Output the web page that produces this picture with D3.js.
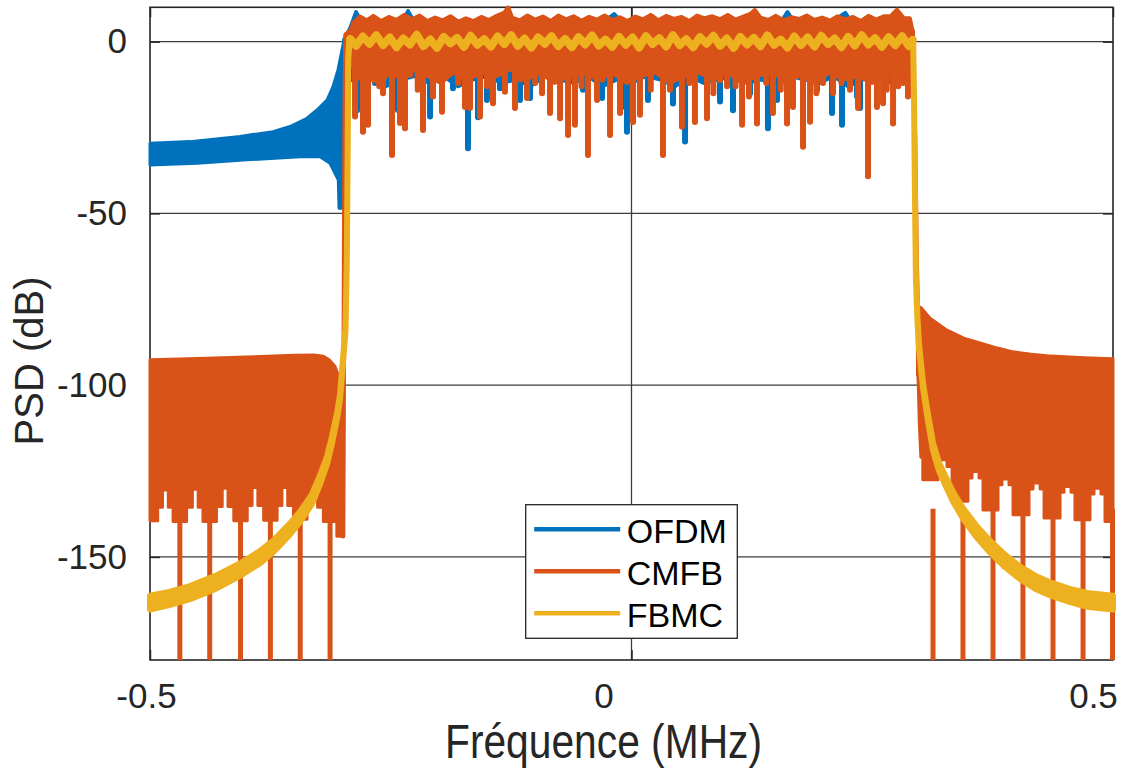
<!DOCTYPE html>
<html>
<head>
<meta charset="utf-8">
<script src="https://cdn.jsdelivr.net/npm/d3@7"></script>
<style>
  html, body { margin: 0; padding: 0; background: #fff; }
  svg { display: block; font-family: "Liberation Sans", Arial, Helvetica, sans-serif; }
</style>
</head>
<body>
<svg id="chart"></svg>
<script>
const WIDTH = 1123;
const HEIGHT = 774;
const LEFT = 150, RIGHT = 1113, TOP = 7.3, BOTTOM = 660;

const COLORS = { OFDM: "#0072BD", CMFB: "#D95319", FBMC: "#EDB120" };
const seriesNames = ["OFDM", "CMFB", "FBMC"];

const xTicks = [-0.5, 0, 0.5];
const xTickLabels = ["-0.5", "0", "0.5"];
const yTicks = [0, -50, -100, -150];

// ---- OFDM (blue) ----
// left side lobe, read as upper / lower envelope [f, dB]
const ofdmLobeUpper = [[-0.5,-29.6],[-0.4585,-29.1],[-0.4066,-27.6],[-0.3723,-26.2],[-0.3546,-24.7],[-0.337,-22.3],[-0.3266,-19.9],[-0.3162,-17],[-0.31,-13.1],[-0.3048,-8.2],[-0.3006,-2.4],[-0.2985,0.5]];
const ofdmLobeLower = [[-0.5,-35.9],[-0.4512,-35.4],[-0.3993,-34.4],[-0.3442,-33.5],[-0.3235,-33.5],[-0.3131,-35.4],[-0.3079,-38.3],[-0.3045,-40.2],[-0.3037,-48.5],[-0.2993,-48.5],[-0.2985,-38],[-0.2975,-10]];
// passband
const ofdmBandTop = [[-0.2985,0.5],[-0.292,4],[-0.286,8.6],[-0.280,5.5],[-0.268,6.2],[-0.258,5.5],[-0.248,6.0],[-0.238,5.6],[-0.232,8.9],[-0.226,5.8],[-0.210,6.0],[-0.198,5.6],[-0.186,6.1],[-0.174,5.7],[-0.162,6.0],[-0.150,5.5],[-0.138,6.2],[-0.126,5.8],[-0.114,6.0],[-0.102,5.6],[-0.090,6.1],[-0.078,5.7],[-0.066,6.0],[-0.054,5.6],[-0.042,6.2],[-0.030,5.6],[-0.018,8.0],[-0.010,5.7],[0.006,6.0],[0.018,5.8],[0.030,6.1],[0.042,5.6],[0.054,6.0],[0.066,5.7],[0.078,6.1],[0.090,5.8],[0.102,6.0],[0.114,5.6],[0.126,6.1],[0.138,5.8],[0.156,6.0],[0.162,8.6],[0.168,5.9],[0.186,6.0],[0.198,5.6],[0.210,6.1],[0.222,8.4],[0.228,5.8],[0.246,6.0],[0.258,5.6],[0.270,6.1],[0.282,5.7],[0.292,3]];
const ofdmBandBottom = [[-0.2985,-10],[-0.285,-12],[-0.27,-10],[-0.255,-13],[-0.24,-11],[-0.225,-10],[-0.21,-12],[-0.195,-10],[-0.18,-13],[-0.165,-11],[-0.15,-10],[-0.135,-12],[-0.12,-11],[-0.105,-13],[-0.09,-10],[-0.075,-11],[-0.06,-12],[-0.045,-10],[-0.03,-13],[-0.015,-11],[0,-12],[0.015,-10],[0.03,-11],[0.045,-13],[0.06,-10],[0.075,-12],[0.09,-11],[0.105,-10],[0.12,-12],[0.135,-11],[0.15,-13],[0.165,-10],[0.18,-11],[0.195,-12],[0.21,-10],[0.225,-13],[0.24,-11],[0.255,-10],[0.27,-12],[0.285,-11],[0.292,-5]];
const ofdmDips = [[-0.2850,-20],[-0.2788,-26],[-0.2664,-12],[-0.2425,-19.9],[-0.2352,-25],[-0.2196,-12],[-0.2092,-21.8],[-0.1854,-13.6],[-0.1698,-31],[-0.1594,-22],[-0.1501,-17],[-0.1366,-13.6],[-0.1158,-17],[-0.1054,-16.4],[-0.0504,-14],[-0.0306,-16.4],[-0.0099,-19],[-0.0047,-26.2],[0.0171,-17],[0.0431,-18],[0.0556,-29.1],[0.0919,-17.4],[0.1054,-20],[0.1231,-15],[0.1417,-25.2],[0.1511,-17],[0.1926,-14],[0.2082,-20.8],[0.2186,-24.2],[0.2342,-16],[0.2373,-19.3]];

// ---- CMFB (orange) ----
const cmfbLeftUpper = [[-0.5,-92.6],[-0.45,-92.2],[-0.40,-91.8],[-0.35,-91.3],[-0.33,-91.2],[-0.32,-91.6],[-0.314,-92.6],[-0.308,-94.5],[-0.304,-97.5],[-0.3015,-101],[-0.2995,-104]];
const cmfbLeftLower = [[-0.500,-139.5],[-0.492,-139.5],[-0.492,-135.5],[-0.487,-135.5],[-0.487,-130.5],[-0.481,-130.5],[-0.481,-135.5],[-0.476,-135.5],[-0.476,-139.7],[-0.462,-139.7],[-0.462,-135.5],[-0.456,-135.5],[-0.456,-130.3],[-0.450,-130.3],[-0.450,-135.5],[-0.445,-135.5],[-0.445,-139.7],[-0.431,-139.7],[-0.431,-135.3],[-0.425,-135.3],[-0.425,-130],[-0.419,-130],[-0.419,-135.3],[-0.413,-135.3],[-0.413,-139.5],[-0.399,-139.5],[-0.399,-135],[-0.394,-135],[-0.394,-129.8],[-0.388,-129.8],[-0.388,-135],[-0.382,-135],[-0.382,-139.3],[-0.368,-139.3],[-0.368,-135],[-0.363,-135],[-0.363,-129.8],[-0.357,-129.8],[-0.357,-135],[-0.351,-135],[-0.351,-139],[-0.337,-139],[-0.337,-135],[-0.332,-135],[-0.332,-130],[-0.326,-130],[-0.326,-135.5],[-0.320,-135.5],[-0.320,-139.7],[-0.306,-139.7],[-0.306,-144],[-0.2995,-144]];
const cmfbRightUpper = [[0.2975,-77],[0.301,-77.5],[0.31,-80.5],[0.3276,-84],[0.345,-86.3],[0.3619,-87.7],[0.38,-89.2],[0.3962,-90.3],[0.415,-91],[0.4315,-91.4],[0.47,-92],[0.5,-92.3]];
const cmfbRightLower = [[0.2975,-97],[0.2990,-112],[0.3005,-121],[0.3025,-121],[0.3025,-127.5],[0.3183,-127.5],[0.3183,-123.7],[0.3204,-123.7],[0.3204,-121.7],[0.3276,-121.7],[0.3276,-123.7],[0.3329,-123.7],[0.3329,-133.8],[0.3494,-133.8],[0.3494,-127],[0.3536,-127],[0.3536,-125.1],[0.3609,-125.1],[0.3609,-127],[0.3650,-127],[0.3650,-136.3],[0.3806,-136.3],[0.3806,-129],[0.3847,-129],[0.3847,-127.3],[0.3920,-127.3],[0.3920,-129],[0.3962,-129],[0.3962,-137.7],[0.4128,-137.7],[0.4128,-130.2],[0.4170,-130.2],[0.4170,-128.5],[0.4243,-128.5],[0.4243,-130.2],[0.4284,-130.2],[0.4284,-138.7],[0.4450,-138.7],[0.4450,-131.2],[0.4491,-131.2],[0.4491,-129.5],[0.4564,-129.5],[0.4564,-131.2],[0.4605,-131.2],[0.4605,-139.2],[0.4761,-139.2],[0.4761,-131.7],[0.4803,-131.7],[0.4803,-130],[0.4875,-130],[0.4875,-131.7],[0.4917,-131.7],[0.4917,-139.7],[0.5,-139.7]];
// nulls that fall below the axis
const cmfbNulls = [-0.469,-0.438,-0.406,-0.375,-0.344,-0.313,0.3131,0.3442,0.3754,0.4065,0.4377,0.4689,0.4995];
const cmfbEdgeLeft = [[-0.2995,-144],[-0.2990,-110],[-0.2984,-60],[-0.2978,-20],[-0.2970,2],[-0.293,3]];
const cmfbEdgeRight = [[0.292,3],[0.2945,-30],[0.2962,-65],[0.2975,-80],[0.2978,-97]];
const cmfbBandTop = [[-0.293,2],[-0.289,5.5],[-0.282,7.3],[-0.275,6.2],[-0.268,7.5],[-0.260,6.0],[-0.252,7.2],[-0.244,6.3],[-0.236,7.8],[-0.228,6.5],[-0.220,7.6],[-0.212,6.0],[-0.204,7.0],[-0.196,6.2],[-0.188,7.4],[-0.180,5.8],[-0.172,6.8],[-0.164,6.0],[-0.156,7.2],[-0.148,6.3],[-0.140,7.5],[-0.132,8.5],[-0.128,10.0],[-0.124,7.0],[-0.116,6.2],[-0.108,7.6],[-0.100,6.4],[-0.092,7.3],[-0.084,6.0],[-0.076,7.6],[-0.068,6.5],[-0.060,7.4],[-0.052,6.1],[-0.044,7.2],[-0.036,6.4],[-0.028,7.6],[-0.020,6.3],[-0.012,7.1],[-0.004,6.0],[0.004,7.3],[0.012,6.5],[0.020,7.8],[0.028,6.2],[0.036,7.5],[0.044,6.6],[0.052,7.2],[0.060,6.0],[0.068,7.6],[0.076,6.8],[0.084,7.4],[0.092,6.5],[0.100,7.8],[0.108,6.4],[0.116,7.3],[0.124,8.2],[0.128,9.2],[0.134,7.0],[0.142,6.3],[0.150,7.5],[0.158,6.2],[0.166,7.1],[0.174,6.6],[0.182,7.6],[0.190,6.3],[0.198,7.0],[0.206,6.1],[0.214,7.4],[0.222,6.5],[0.230,7.2],[0.238,6.0],[0.246,7.5],[0.254,6.4],[0.262,7.4],[0.2695,7.5],[0.2757,9.3],[0.283,6.8],[0.289,6.8],[0.292,3]];
const cmfbBandBottom = [[-0.293,-4],[-0.285,-11],[-0.275,-9],[-0.262,-12],[-0.250,-9],[-0.238,-11],[-0.225,-8],[-0.212,-10],[-0.198,-12],[-0.185,-9],[-0.170,-11],[-0.155,-9],[-0.140,-10],[-0.125,-8],[-0.110,-11],[-0.095,-9],[-0.080,-12],[-0.065,-10],[-0.050,-9],[-0.035,-11],[-0.020,-9],[-0.005,-12],[0.010,-10],[0.025,-9],[0.040,-12],[0.055,-10],[0.070,-9],[0.085,-11],[0.100,-9],[0.115,-12],[0.130,-10],[0.145,-9],[0.160,-11],[0.175,-10],[0.190,-12],[0.205,-9],[0.220,-11],[0.235,-10],[0.250,-12],[0.265,-9],[0.280,-11],[0.292,-4]];
const cmfbDips = [[-0.2871,-21.8],[-0.2788,-26.2],[-0.2736,-24.2],[-0.2674,-11.2],[-0.262,-13],[-0.2580,-15],[-0.2487,-33],[-0.2404,-23.7],[-0.2352,-25.2],[-0.2300,-9.7],[-0.222,-14],[-0.2165,-25.7],[-0.2061,-16],[-0.1968,-20.4],[-0.1906,-8.2],[-0.180,-12],[-0.1729,-19],[-0.1677,-19.3],[-0.1573,-21.8],[-0.150,-13],[-0.1438,-17.9],[-0.1314,-14.6],[-0.1210,-19.3],[-0.115,-11],[-0.1085,-16.4],[-0.100,-12],[-0.0929,-15],[-0.0846,-20.8],[-0.0742,-22.3],[-0.0659,-27.2],[-0.0587,-24.2],[-0.052,-13],[-0.0452,-33],[-0.0358,-17],[-0.030,-11],[-0.0223,-27.2],[-0.0119,-20.8],[0.0016,-23.4],[0.0088,-21.3],[0.020,-14],[0.0327,-33],[0.0400,-14],[0.0524,-24.8],[0.060,-12],[0.0659,-23.4],[0.0784,-22.3],[0.085,-15],[0.0919,-11.2],[0.0992,-13],[0.108,-13],[0.1148,-24.2],[0.122,-16],[0.1303,-23.8],[0.140,-12],[0.1469,-20.8],[0.155,-14],[0.1615,-23.8],[0.1677,-19],[0.1781,-30.6],[0.1854,-23.3],[0.192,-15],[0.1989,-12],[0.2093,-15],[0.218,-12],[0.2269,-14],[0.2352,-19.3],[0.2456,-39.2],[0.2549,-19],[0.2612,-17.9],[0.265,-14],[0.2716,-23.8],[0.277,-13],[0.2819,-12],[0.2871,-16]];

// ---- FBMC (yellow) ----
// skirts as [f, upper dB, lower dB]
const fbmcSkirtLeft = [[-0.500,-161.3,-165.3],[-0.480,-160.2,-164.0],[-0.4585,-158.5,-162.3],[-0.432,-155.5,-159.3],[-0.4066,-151.9,-155.5],[-0.386,-148.3,-151.9],[-0.3723,-145.3,-148.7],[-0.355,-140.4,-143.6],[-0.3442,-136.8,-139.8],[-0.332,-131.9,-134.7],[-0.3235,-126.3,-128.9],[-0.316,-120.6,-122.8],[-0.311,-114.9,-116.9],[-0.3055,-107.8,-109.4],[-0.3027,-102.7,-104.1],[-0.2995,-92,-93.2],[-0.2970,-83.4,-84.4],[-0.2956,-63.2,-63.8],[-0.2947,-31.2,-31.8],[-0.2942,-5.0,-5.6],[-0.2930,0.8,-0.8]];
const fbmcSkirtRight = [[0.2925,0.8,-0.8],[0.2934,-16.7,-17.3],[0.2944,-45.7,-46.3],[0.2954,-69,-69.6],[0.2970,-80.5,-81.5],[0.2986,-88.2,-89.4],[0.3027,-99.3,-100.7],[0.3070,-107.1,-108.9],[0.3131,-116.8,-119],[0.3190,-122.3,-124.7],[0.3255,-126.2,-128.8],[0.3340,-131.1,-133.9],[0.3440,-135.7,-138.7],[0.3580,-140.9,-144.1],[0.3723,-145.3,-148.7],[0.3880,-149.4,-153],[0.4034,-152.8,-156.4],[0.4200,-155.6,-159.4],[0.4377,-157.7,-161.5],[0.4550,-159.3,-163.1],[0.4730,-160.5,-164.5],[0.5000,-161.3,-165.3]];
const fbmcPass = [[-0.292,0.8],[-0.286,-1.2],[-0.279,1.5],[-0.272,-0.6],[-0.265,1.9],[-0.258,-1.0],[-0.251,1.2],[-0.244,-1.6],[-0.237,0.9],[-0.230,-0.8],[-0.223,2.0],[-0.216,-1.3],[-0.209,0.6],[-0.202,-1.8],[-0.195,1.4],[-0.188,-0.5],[-0.181,1.1],[-0.174,-1.5],[-0.167,1.7],[-0.160,-0.9],[-0.153,0.7],[-0.146,-1.4],[-0.139,1.5],[-0.132,-0.7],[-0.125,1.9],[-0.118,-1.2],[-0.111,0.9],[-0.104,-1.7],[-0.097,1.2],[-0.090,-0.6],[-0.083,1.6],[-0.076,-1.3],[-0.069,0.8],[-0.062,-1.6],[-0.055,1.3],[-0.048,-0.8],[-0.041,1.8],[-0.034,-1.1],[-0.027,0.6],[-0.020,-1.5],[-0.013,1.4],[-0.006,-0.9],[0.001,1.2],[0.008,-1.7],[0.015,1.6],[0.022,-0.7],[0.029,1.0],[0.036,-1.4],[0.043,1.9],[0.050,-1.0],[0.057,0.7],[0.064,-1.6],[0.071,1.3],[0.078,-0.6],[0.085,1.7],[0.092,-1.2],[0.099,0.9],[0.106,-1.8],[0.113,1.4],[0.120,-0.8],[0.127,1.1],[0.134,-1.3],[0.141,1.8],[0.148,-0.9],[0.155,0.6],[0.162,-1.7],[0.169,1.5],[0.176,-1.0],[0.183,1.2],[0.190,-1.4],[0.197,1.7],[0.204,-0.7],[0.211,0.9],[0.218,-1.6],[0.225,1.4],[0.232,-1.1],[0.239,1.9],[0.246,-0.8],[0.253,1.0],[0.260,-1.5],[0.267,1.3],[0.274,-1.0],[0.281,1.6],[0.288,-1.3],[0.292,0.5]];

const DIP_BASE = -6;

const svg = d3.select("#chart").attr("width", WIDTH).attr("height", HEIGHT);

const x = d3.scaleLinear().domain([-0.5, 0.5]).range([LEFT, RIGHT]);
const y = d3.scaleLinear().domain([-180, 10]).range([BOTTOM, TOP]);

const line = d3.line().x((d) => x(d[0])).y((d) => y(d[1]));
const band = d3.area().x((d) => x(d[0])).y0((d) => y(d[2])).y1((d) => y(d[1]));

// polygon from an upper edge and a lower edge
const shape = (upper, lower) => line(upper.concat(lower.slice().reverse())) + "Z";

svg.append("rect").attr("width", WIDTH).attr("height", HEIGHT).attr("fill", "#fff");

// grid
const grid = svg.append("g").attr("stroke", "#3c3c3c").attr("stroke-width", 1.3);
yTicks.forEach((t) => {
  grid.append("line").attr("x1", LEFT).attr("x2", RIGHT).attr("y1", y(t)).attr("y2", y(t));
});
xTicks.filter((t) => t > -0.5 && t < 0.5).forEach((t) => {
  grid.append("line").attr("y1", TOP).attr("y2", BOTTOM).attr("x1", x(t)).attr("x2", x(t));
});

// axes with inside ticks
const fontColor = "#262626";
const yAxis = svg.append("g")
  .attr("transform", `translate(${LEFT},0)`)
  .call(d3.axisLeft(y).tickValues(yTicks).tickSize(-10).tickPadding(23).tickFormat((d) => String(d)));
const yAxisR = svg.append("g")
  .attr("transform", `translate(${RIGHT},0)`)
  .call(d3.axisRight(y).tickValues(yTicks).tickSize(-10).tickFormat(""));
const xAxis = svg.append("g")
  .attr("transform", `translate(0,${BOTTOM})`)
  .call(d3.axisBottom(x).tickValues(xTicks).tickSize(-10).tickPadding(23).tickFormat((d, i) => xTickLabels[i]));
const xAxisT = svg.append("g")
  .attr("transform", `translate(0,${TOP})`)
  .call(d3.axisTop(x).tickValues(xTicks).tickSize(-10).tickFormat(""));

const xLabelShift = [-4, -28, -20];
[yAxis, yAxisR, xAxis, xAxisT].forEach((g) => {
  g.select(".domain").remove();
  g.selectAll(".tick line").attr("stroke", fontColor).attr("stroke-width", 1.5);
  g.selectAll(".tick text")
    .attr("fill", fontColor)
    .style("font-size", "35px")
    .style("font-family", '"Liberation Sans", Arial, Helvetica, sans-serif');
});
xAxis.selectAll(".tick text").attr("dx", (d, i) => xLabelShift[i]);

svg.append("rect")
  .attr("x", LEFT).attr("y", TOP)
  .attr("width", RIGHT - LEFT).attr("height", BOTTOM - TOP)
  .attr("fill", "none").attr("stroke", fontColor).attr("stroke-width", 1.6);

// axis titles
svg.append("text")
  .attr("x", 603.5).attr("y", 758)
  .attr("text-anchor", "middle")
  .attr("fill", fontColor)
  .attr("font-size", 48)
  .attr("textLength", 317)
  .attr("lengthAdjust", "spacingAndGlyphs")
  .text("Fréquence (MHz)");
svg.append("text")
  .attr("transform", "translate(43,361) rotate(-90)")
  .attr("text-anchor", "middle")
  .attr("fill", fontColor)
  .attr("font-size", 40)
  .text("PSD (dB)");

// data
svg.append("clipPath").attr("id", "plot-clip")
  .append("rect")
  .attr("x", LEFT - 4).attr("y", TOP - 2)
  .attr("width", RIGHT - LEFT + 8).attr("height", BOTTOM - TOP + 2);

const plot = svg.append("g").attr("clip-path", "url(#plot-clip)");

const drawDips = (dips, color) => {
  plot.append("g")
    .selectAll("path")
    .data(dips)
    .enter()
    .append("path")
    .attr("d", (d) => line([[d[0], DIP_BASE], d]))
    .attr("stroke", color)
    .attr("stroke-width", 6)
    .attr("stroke-linecap", "round")
    .attr("fill", "none");
};

// OFDM
const blue = COLORS.OFDM;
plot.append("path").attr("d", shape(ofdmLobeUpper, ofdmLobeLower))
  .attr("fill", blue).attr("stroke", blue).attr("stroke-width", 3).attr("stroke-linejoin", "round");
plot.append("path").attr("d", shape(ofdmBandTop, ofdmBandBottom))
  .attr("fill", blue).attr("stroke", blue).attr("stroke-width", 4).attr("stroke-linejoin", "round");
drawDips(ofdmDips, blue);

// CMFB
const orange = COLORS.CMFB;
plot.append("path").attr("d", shape(cmfbLeftUpper, cmfbLeftLower))
  .attr("fill", orange).attr("stroke", orange).attr("stroke-width", 3).attr("stroke-linejoin", "round");
plot.append("path").attr("d", shape(cmfbRightUpper, cmfbRightLower))
  .attr("fill", orange).attr("stroke", orange).attr("stroke-width", 3).attr("stroke-linejoin", "round");
plot.append("g")
  .selectAll("path")
  .data(cmfbNulls)
  .enter()
  .append("path")
  .attr("d", (f) => line([[f, -136], [f, -190]]))
  .attr("stroke", orange).attr("stroke-width", 5).attr("fill", "none");
[cmfbEdgeLeft, cmfbEdgeRight].forEach((edge) => {
  plot.append("path").attr("d", line(edge))
    .attr("fill", "none").attr("stroke", orange).attr("stroke-width", 4.5)
    .attr("stroke-linejoin", "round").attr("stroke-linecap", "round");
});
plot.append("path").attr("d", shape(cmfbBandTop, cmfbBandBottom))
  .attr("fill", orange).attr("stroke", orange).attr("stroke-width", 4).attr("stroke-linejoin", "round");
drawDips(cmfbDips, orange);

// FBMC
const yellow = COLORS.FBMC;
[fbmcSkirtLeft, fbmcSkirtRight].forEach((skirt) => {
  plot.append("path").attr("d", band(skirt))
    .attr("fill", yellow).attr("stroke", yellow).attr("stroke-width", 6)
    .attr("stroke-linejoin", "round").attr("stroke-linecap", "round");
});
plot.append("path").attr("d", line(fbmcPass))
  .attr("fill", "none").attr("stroke", yellow).attr("stroke-width", 8)
  .attr("stroke-linejoin", "round").attr("stroke-linecap", "round");

// legend
const legend = svg.append("g").attr("transform", "translate(525.7,504.7)");
legend.append("rect")
  .attr("width", 211.6).attr("height", 133.6)
  .attr("fill", "#fff").attr("stroke", fontColor).attr("stroke-width", 1.3);
seriesNames.forEach((name, i) => {
  const row = legend.append("g").attr("transform", `translate(0,${24.6 + i * 42})`);
  row.append("line")
    .attr("x1", 8.5).attr("x2", 94.5)
    .attr("stroke", COLORS[name]).attr("stroke-width", 4.5);
  row.append("text")
    .attr("x", 101).attr("y", 14)
    .attr("font-size", 34)
    .attr("fill", "#000")
    .text(name);
});
</script>
</body>
</html>
